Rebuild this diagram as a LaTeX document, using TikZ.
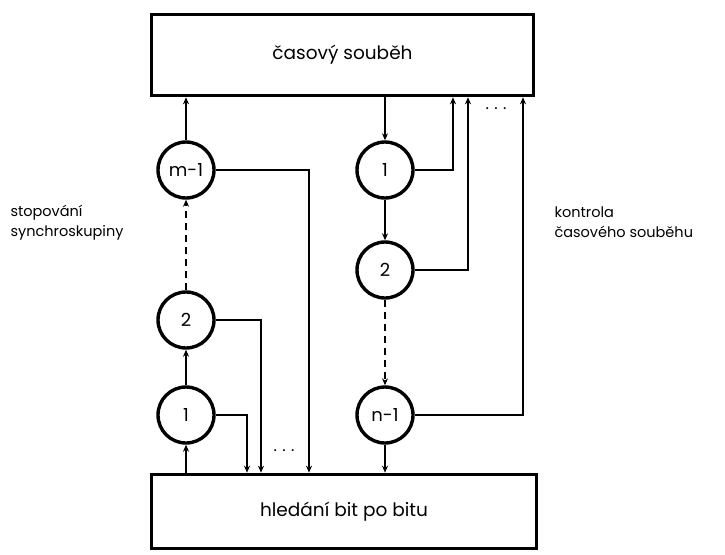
\documentclass[tikz,border=0pt]{standalone}
\usepackage{fontspec}
\setmainfont{Poppins}
\usetikzlibrary{arrows.meta}
\tikzset{
  blok/.style={draw, line width=3.6pt, minimum width=382pt, minimum height=81pt, font=\fontsize{18.5}{21}\selectfont},
  uzel/.style={draw, circle, line width=3.4pt, minimum size=56pt, inner sep=0pt, font=\fontsize{18}{20}\selectfont},
  sip/.style={line width=1.8pt, -{Stealth[length=7pt,width=6pt]}},
  popis/.style={anchor=west, align=left, font=\fontsize{14.5}{20}\selectfont},
}

\begin{document}
\begin{tikzpicture}[x=1pt, y=-1pt]
  \useasboundingbox (0,0) rectangle (725,554);
  \node[blok] (soubeh) at (342.5,55) {časový souběh};
  \node[blok, minimum width=385pt, minimum height=74pt] (hledani) at (344,511.5) {hledání bit po bitu};

  \node[uzel] (m1) at (186,170) {m-1};
  \node[uzel] (s2) at (186,320) {2};
  \node[uzel] (s1) at (186,415) {1};
  \node[uzel] (k1) at (385,170) {1};
  \node[uzel] (k2) at (385,270) {2};
  \node[uzel] (kn) at (385,415) {n-1};

  \coordinate (a1) at (247,0);
  \coordinate (a2) at (261,0);
  \coordinate (a3) at (309,0);
  \coordinate (b1) at (453,0);
  \coordinate (b2) at (468,0);
  \coordinate (b3) at (523,0);

  \draw[sip] (s1 |- hledani.north) -- (s1);
  \draw[sip] (s1) -- (s2);
  \draw[sip, dash pattern=on 7pt off 5pt] (s2) -- (m1);
  \draw[sip] (m1) -- (m1 |- soubeh.south);
  \draw[sip] (s1.east) -| (a1 |- hledani.north);
  \draw[sip] (s2.east) -| (a2 |- hledani.north);
  \draw[sip] (m1.east) -| (a3 |- hledani.north);

  \draw[sip] (k1 |- soubeh.south) -- (k1);
  \draw[sip] (k1) -- (k2);
  \draw[sip, dash pattern=on 7pt off 5pt] (k2) -- (kn);
  \draw[sip] (kn) -- (kn |- hledani.north);
  \draw[sip] (k1.east) -| (b1 |- soubeh.south);
  \draw[sip] (k2.east) -| (b2 |- soubeh.south);
  \draw[sip] (kn.east) -| (b3 |- soubeh.south);

  \node[font=\fontsize{16}{18}\selectfont] (tecky1) at (284,451) {.\,\,.\,\,.};
  \node[font=\fontsize{16}{18}\selectfont] (tecky2) at (496,109) {.\,\,.\,\,.};

  \node[popis] (stop) at (7,223) {stopování\\synchroskupiny};
  \node[popis] (kontr) at (551,222) {kontrola\\časového souběhu};
\end{tikzpicture}
\end{document}
